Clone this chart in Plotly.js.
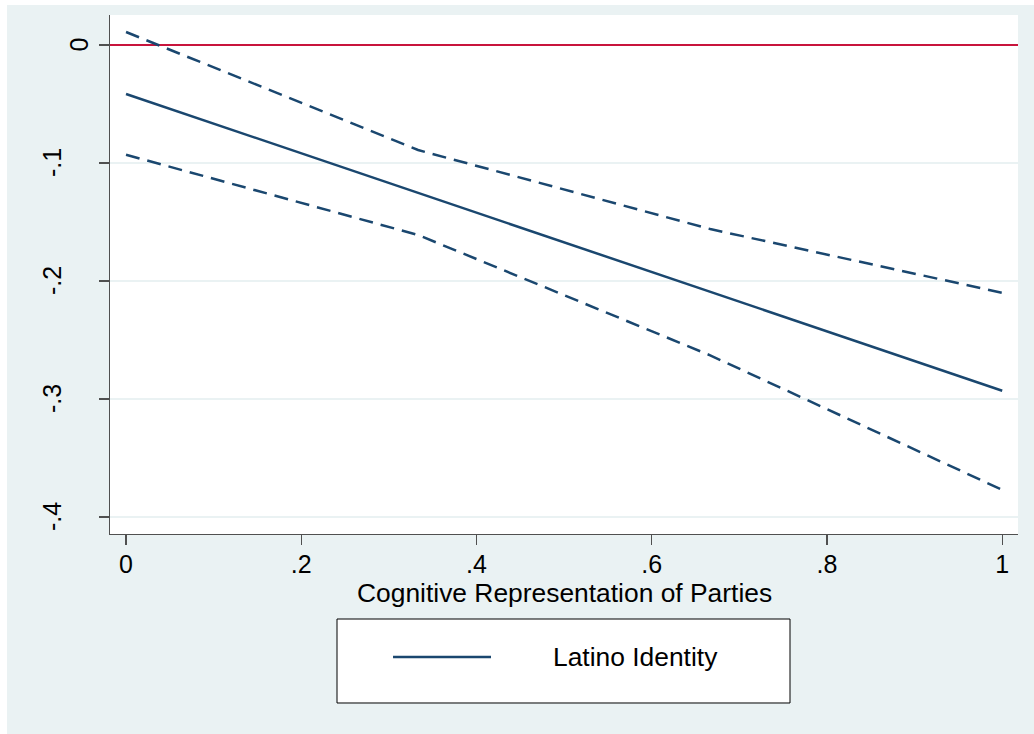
<!DOCTYPE html>
<html>
<head>
<meta charset="utf-8">
<script src="https://cdn.plot.ly/plotly-3.0.1.min.js"></script>
<style>
  html, body { margin: 0; padding: 0; background: #ffffff; }
  #chart { position: absolute; left: 7px; top: 5px; width: 1027px; height: 729px; }
</style>
</head>
<body>
<div id="chart"></div>
<script>
// Data
const xValues = [0, 0.3333, 0.6667, 1];
const estimate = [-0.0415, -0.1253, -0.2092, -0.293];
const upperCI = [0.011, -0.089, -0.156, -0.210];
const lowerCI = [-0.093, -0.161, -0.263, -0.377];

const xTickVals = [0, 0.2, 0.4, 0.6, 0.8, 1];
const xTickText = ["0", ".2", ".4", ".6", ".8", "1"];
const yTickVals = [0, -0.1, -0.2, -0.3, -0.4];
const yTickText = ["0", "-.1", "-.2", "-.3", "-.4"];

const seriesName = "Latino Identity";
const xTitle = "Cognitive Representation of Parties";

const navy = "#1a476f";
const red = "#c8143c";
const bg = "#eaf2f3";
const fontFamily = "'Liberation Sans', Arial, sans-serif";
const tickSize = 25;
const textSize = 26.4;

const traces = [
  { x: xValues, y: upperCI, mode: "lines", line: { color: navy, width: 2.5, dash: "14px,8px" }, showlegend: false, hoverinfo: "skip" },
  { x: xValues, y: lowerCI, mode: "lines", line: { color: navy, width: 2.5, dash: "14px,8px" }, showlegend: false, hoverinfo: "skip" },
  { x: xValues, y: estimate, mode: "lines", line: { color: navy, width: 2.5 }, name: seriesName, showlegend: false }
];

// y tick labels as rotated annotations (offset like Stata by label length)
const annotations = yTickVals.map((v, i) => ({
  xref: "paper", yref: "y", x: 0, y: v,
  text: yTickText[i], showarrow: false, textangle: -90,
  xanchor: "center", yanchor: "middle",
  xshift: -31.5 - 13.25 * (yTickText[i].length - 1),
  font: { family: fontFamily, size: tickSize, color: "#000" }
}));

annotations.push({
  xref: "paper", yref: "paper", x: 0.5, y: 0, yshift: -59,
  xanchor: "center", yanchor: "middle", showarrow: false,
  text: xTitle, font: { family: fontFamily, size: textSize, color: "#000" }
});

// legend (box, sample line, label)
annotations.push({
  xref: "paper", yref: "paper", x: 0.4857, y: -0.237,
  xanchor: "left", yanchor: "middle", showarrow: false,
  text: seriesName, font: { family: fontFamily, size: textSize, color: "#000" }
});

const shapes = [
  { type: "rect", xref: "paper", yref: "paper", x0: 0.25, x1: 0.7489, y0: -0.3256, y1: -0.1638,
    fillcolor: "#ffffff", line: { color: "#000000", width: 1 } },
  { type: "line", xref: "paper", yref: "paper", x0: 0.3117, x1: 0.4196, y0: -0.237, y1: -0.237,
    line: { color: navy, width: 2.5 } }
];

const layout = {
  width: 1027, height: 729,
  margin: { l: 103, r: 16, t: 10, b: 200, pad: 0 },
  paper_bgcolor: bg,
  plot_bgcolor: "#ffffff",
  showlegend: false,
  font: { family: fontFamily, size: tickSize, color: "#000" },
  xaxis: {
    range: [-0.0183, 1.018],
    tickvals: xTickVals, ticktext: xTickText,
    ticks: "outside", ticklen: 10, tickwidth: 1.2, tickcolor: "#505050",
    ticklabelstandoff: -2,
    showline: true, linecolor: "#505050", linewidth: 1.3,
    showgrid: false, zeroline: false,
    tickfont: { family: fontFamily, size: tickSize, color: "#000" }
  },
  yaxis: {
    range: [-0.4144, 0.0254],
    tickvals: yTickVals, ticktext: yTickText, showticklabels: false,
    ticks: "outside", ticklen: 10, tickwidth: 1.2, tickcolor: "#505050",
    showline: true, linecolor: "#505050", linewidth: 1.3,
    showgrid: true, gridcolor: bg, gridwidth: 2,
    zeroline: true, zerolinecolor: red, zerolinewidth: 2.6
  },
  annotations: annotations,
  shapes: shapes
};

Plotly.newPlot("chart", traces, layout, { displayModeBar: false, staticPlot: true });
</script>
</body>
</html>
